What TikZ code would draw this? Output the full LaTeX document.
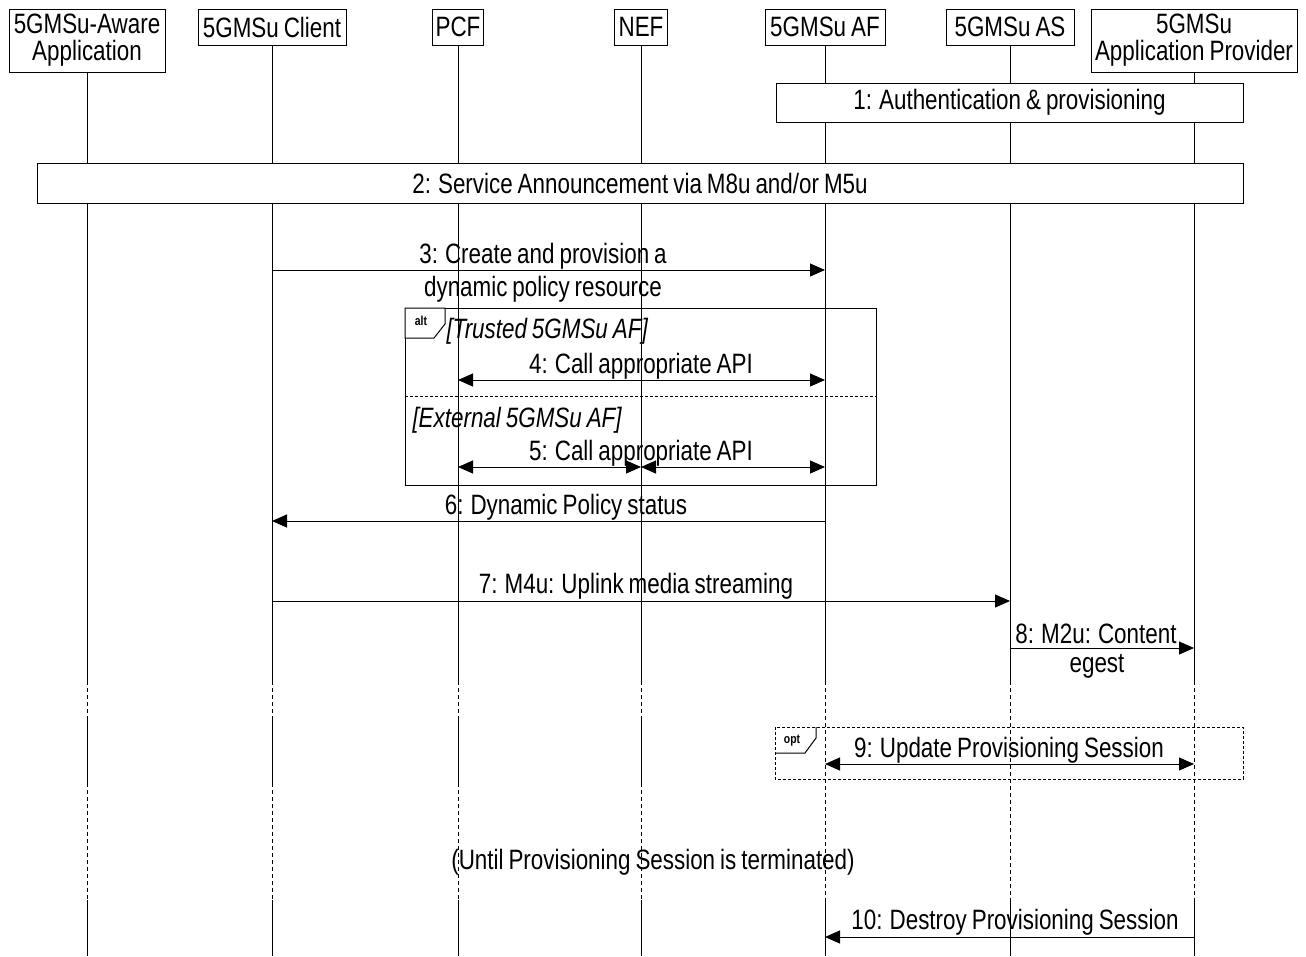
\documentclass[tikz,border=0pt]{standalone}
\usepackage{fontspec}
\setmainfont{Liberation Sans}[FakeStretch=0.8,WordSpace=0.8]
\usetikzlibrary{arrows.meta}
\begin{document}
\begin{tikzpicture}[x=1pt,y=-1pt,line width=1pt,
  txt/.style={font=\fontsize{28}{31}\selectfont, inner sep=0pt},
  head/.style={draw, fill=white, inner sep=0pt, align=center, font=\fontsize{28}{27}\selectfont},
  msg/.style={-{Triangle[length=15pt,width=13pt]}},
  bimsg/.style={{Triangle[length=15pt,width=13pt]}-{Triangle[length=15pt,width=13pt]}},
  lifedash/.style={dash pattern=on 4pt off 3pt},
  framedash/.style={dash pattern=on 3pt off 2pt},
  guard/.style={font=\fontsize{28}{31}\selectfont\itshape, inner sep=0pt, anchor=west},
  tag/.style={font=\fontsize{13}{14}\selectfont\bfseries, inner sep=0pt}]
\useasboundingbox (0,0) rectangle (1306,956);

% headers
\node[head, minimum width=156, minimum height=63] (app) at (87,40.5) {5GMSu-Aware\\Application};
\node[head, minimum width=148, minimum height=36] (client) at (272,27) {5GMSu Client};
\node[head, minimum width=51, minimum height=36] (pcf) at (458,27) {PCF};
\node[head, minimum width=53, minimum height=36] (nef) at (641,27) {NEF};
\node[head, minimum width=120, minimum height=36] (af) at (825,27) {5GMSu AF};
\node[head, minimum width=128, minimum height=36] (as) at (1010,27) {5GMSu AS};
\node[head, minimum width=206, minimum height=63] (prov) at (1194,40.5) {5GMSu\\Application Provider};

% lifelines
\foreach \n in {app,client,pcf,nef}{
  \draw (\n.south) -- (\n.south |- 0,681);
  \draw[lifedash] (\n.south |- 0,681) -- (\n.south |- 0,718);
  \draw (\n.south |- 0,718) -- (\n.south |- 0,783);
  \draw[lifedash] (\n.south |- 0,783) -- (\n.south |- 0,900);
  \draw (\n.south |- 0,900) -- (\n.south |- 0,956);
}
\foreach \n in {af,as,prov}{
  \draw (\n.south) -- (\n.south |- 0,681);
  \draw[lifedash] (\n.south |- 0,681) -- (\n.south |- 0,900);
  \draw (\n.south |- 0,900) -- (\n.south |- 0,956);
}

% 1 and 2
\node[draw, fill=white, minimum width=467, minimum height=39, txt] (b1) at (1009.5,102.5) {1: Authentication \& provisioning};
\node[draw, fill=white, minimum width=1206, minimum height=40, txt] (b2) at (640,183) {2: Service Announcement via M8u and/or M5u};

% message coordinates
\coordinate (m3a) at (client |- 0,270); \coordinate (m3b) at (af |- 0,270);
\coordinate (m4a) at (pcf |- 0,380); \coordinate (m4b) at (af |- 0,380);
\coordinate (m5a) at (pcf |- 0,467); \coordinate (m5b) at (nef |- 0,467); \coordinate (m5c) at (af |- 0,467);
\coordinate (m6a) at (af |- 0,521); \coordinate (m6b) at (client |- 0,521);
\coordinate (m7a) at (client |- 0,601); \coordinate (m7b) at (as |- 0,601);
\coordinate (m8a) at (as |- 0,648); \coordinate (m8b) at (prov |- 0,648);
\coordinate (m9a) at (af |- 0,764); \coordinate (m9b) at (prov |- 0,764);
\coordinate (m10a) at (prov |- 0,937); \coordinate (m10b) at (af |- 0,937);

% 3
\draw[msg] (m3a) -- (m3b);
\node[txt] (t3a) at (543,256) {3: Create and provision a};
\node[txt] (t3b) at (543,289) {dynamic policy resource};

% alt frame
\draw (405,308) rectangle (876,485);
\draw[fill=white] (405,308) -- (445,308) -- (445,324) -- (434,338) -- (405,338) -- cycle;
\node[tag] (altl) at (421,321) {alt};
\node[guard] (g1) at (446,331) {[Trusted 5GMSu AF]};
\draw[bimsg] (m4a) -- (m4b);
\node[txt] (t4) at (641,366) {4: Call appropriate API};
\draw[framedash] (405,396) -- (876,396);
\node[guard] (g2) at (412,420) {[External 5GMSu AF]};
\draw[bimsg] (m5a) -- (m5b);
\draw[bimsg] (m5b) -- (m5c);
\node[txt] (t5) at (641,453) {5: Call appropriate API};

% 6
\draw[msg] (m6a) -- (m6b);
\node[txt] (t6) at (566,507) {6: Dynamic Policy status};
% 7
\draw[msg] (m7a) -- (m7b);
\node[txt] (t7) at (636,586) {7: M4u: Uplink media streaming};
% 8
\draw[msg] (m8a) -- (m8b);
\node[txt] (t8a) at (1096,634) {8: M2u: Content};
\node[txt] (t8b) at (1097,666) {egest};

% opt frame
\draw[framedash] (775,727) rectangle (1243,779);
\draw (775,753) -- (805,753) -- (816,738) -- (816,727);
\node[tag] (optl) at (792,741) {opt};
\draw[bimsg] (m9a) -- (m9b);
\node[txt] (t9) at (1009,750) {9: Update Provisioning Session};

\node[txt] (until) at (653,862) {(Until Provisioning Session is terminated)};

% 10
\draw[msg] (m10a) -- (m10b);
\node[txt] (t10) at (1015,922) {10: Destroy Provisioning Session};
\end{tikzpicture}
\end{document}
